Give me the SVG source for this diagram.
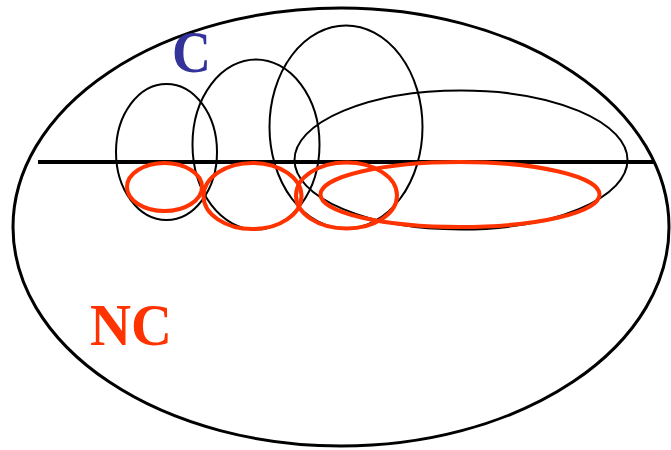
<svg xmlns="http://www.w3.org/2000/svg" width="671" height="450" viewBox="0 0 671 450">
<style>
.outer{fill:none;stroke:#000;stroke-width:3}
.blk{fill:none;stroke:#000;stroke-width:2}
.red{fill:none;stroke:#ff3300;stroke-width:4}
.lbl{font-family:"Liberation Serif","Times New Roman",serif;font-weight:bold;font-size:60px}
</style>
<rect width="671" height="450" fill="#fff"/>
<g id="universe"><ellipse class="outer" cx="341" cy="227" rx="328" ry="219"/></g>
<g id="divider"><line x1="38" y1="162" x2="654" y2="162" stroke="#000" stroke-width="4"/></g>
<g id="c1"><ellipse class="blk" cx="166.5" cy="152" rx="50.5" ry="68"/></g>
<g id="c2"><ellipse class="blk" cx="256" cy="144.5" rx="63.5" ry="85"/></g>
<g id="c3"><ellipse class="blk" cx="346" cy="127" rx="76.5" ry="101.5"/></g>
<g id="c4"><ellipse class="blk" cx="461" cy="160" rx="166.5" ry="69.5"/></g>
<g id="n1"><ellipse class="red" cx="164.5" cy="187" rx="37.5" ry="24"/></g>
<g id="n2"><ellipse class="red" cx="252.5" cy="196" rx="49" ry="33"/></g>
<g id="n3"><ellipse class="red" cx="346.5" cy="195.5" rx="50.5" ry="33"/></g>
<g id="n4"><ellipse class="red" cx="460" cy="194.5" rx="139.5" ry="32.5"/></g>
<g id="label-c"><text class="lbl" x="172" y="72" fill="#333399" textLength="39" lengthAdjust="spacingAndGlyphs">C</text></g>
<g id="label-nc"><text class="lbl" x="90" y="345" fill="#ff3300" textLength="82" lengthAdjust="spacingAndGlyphs">NC</text></g>
</svg>
